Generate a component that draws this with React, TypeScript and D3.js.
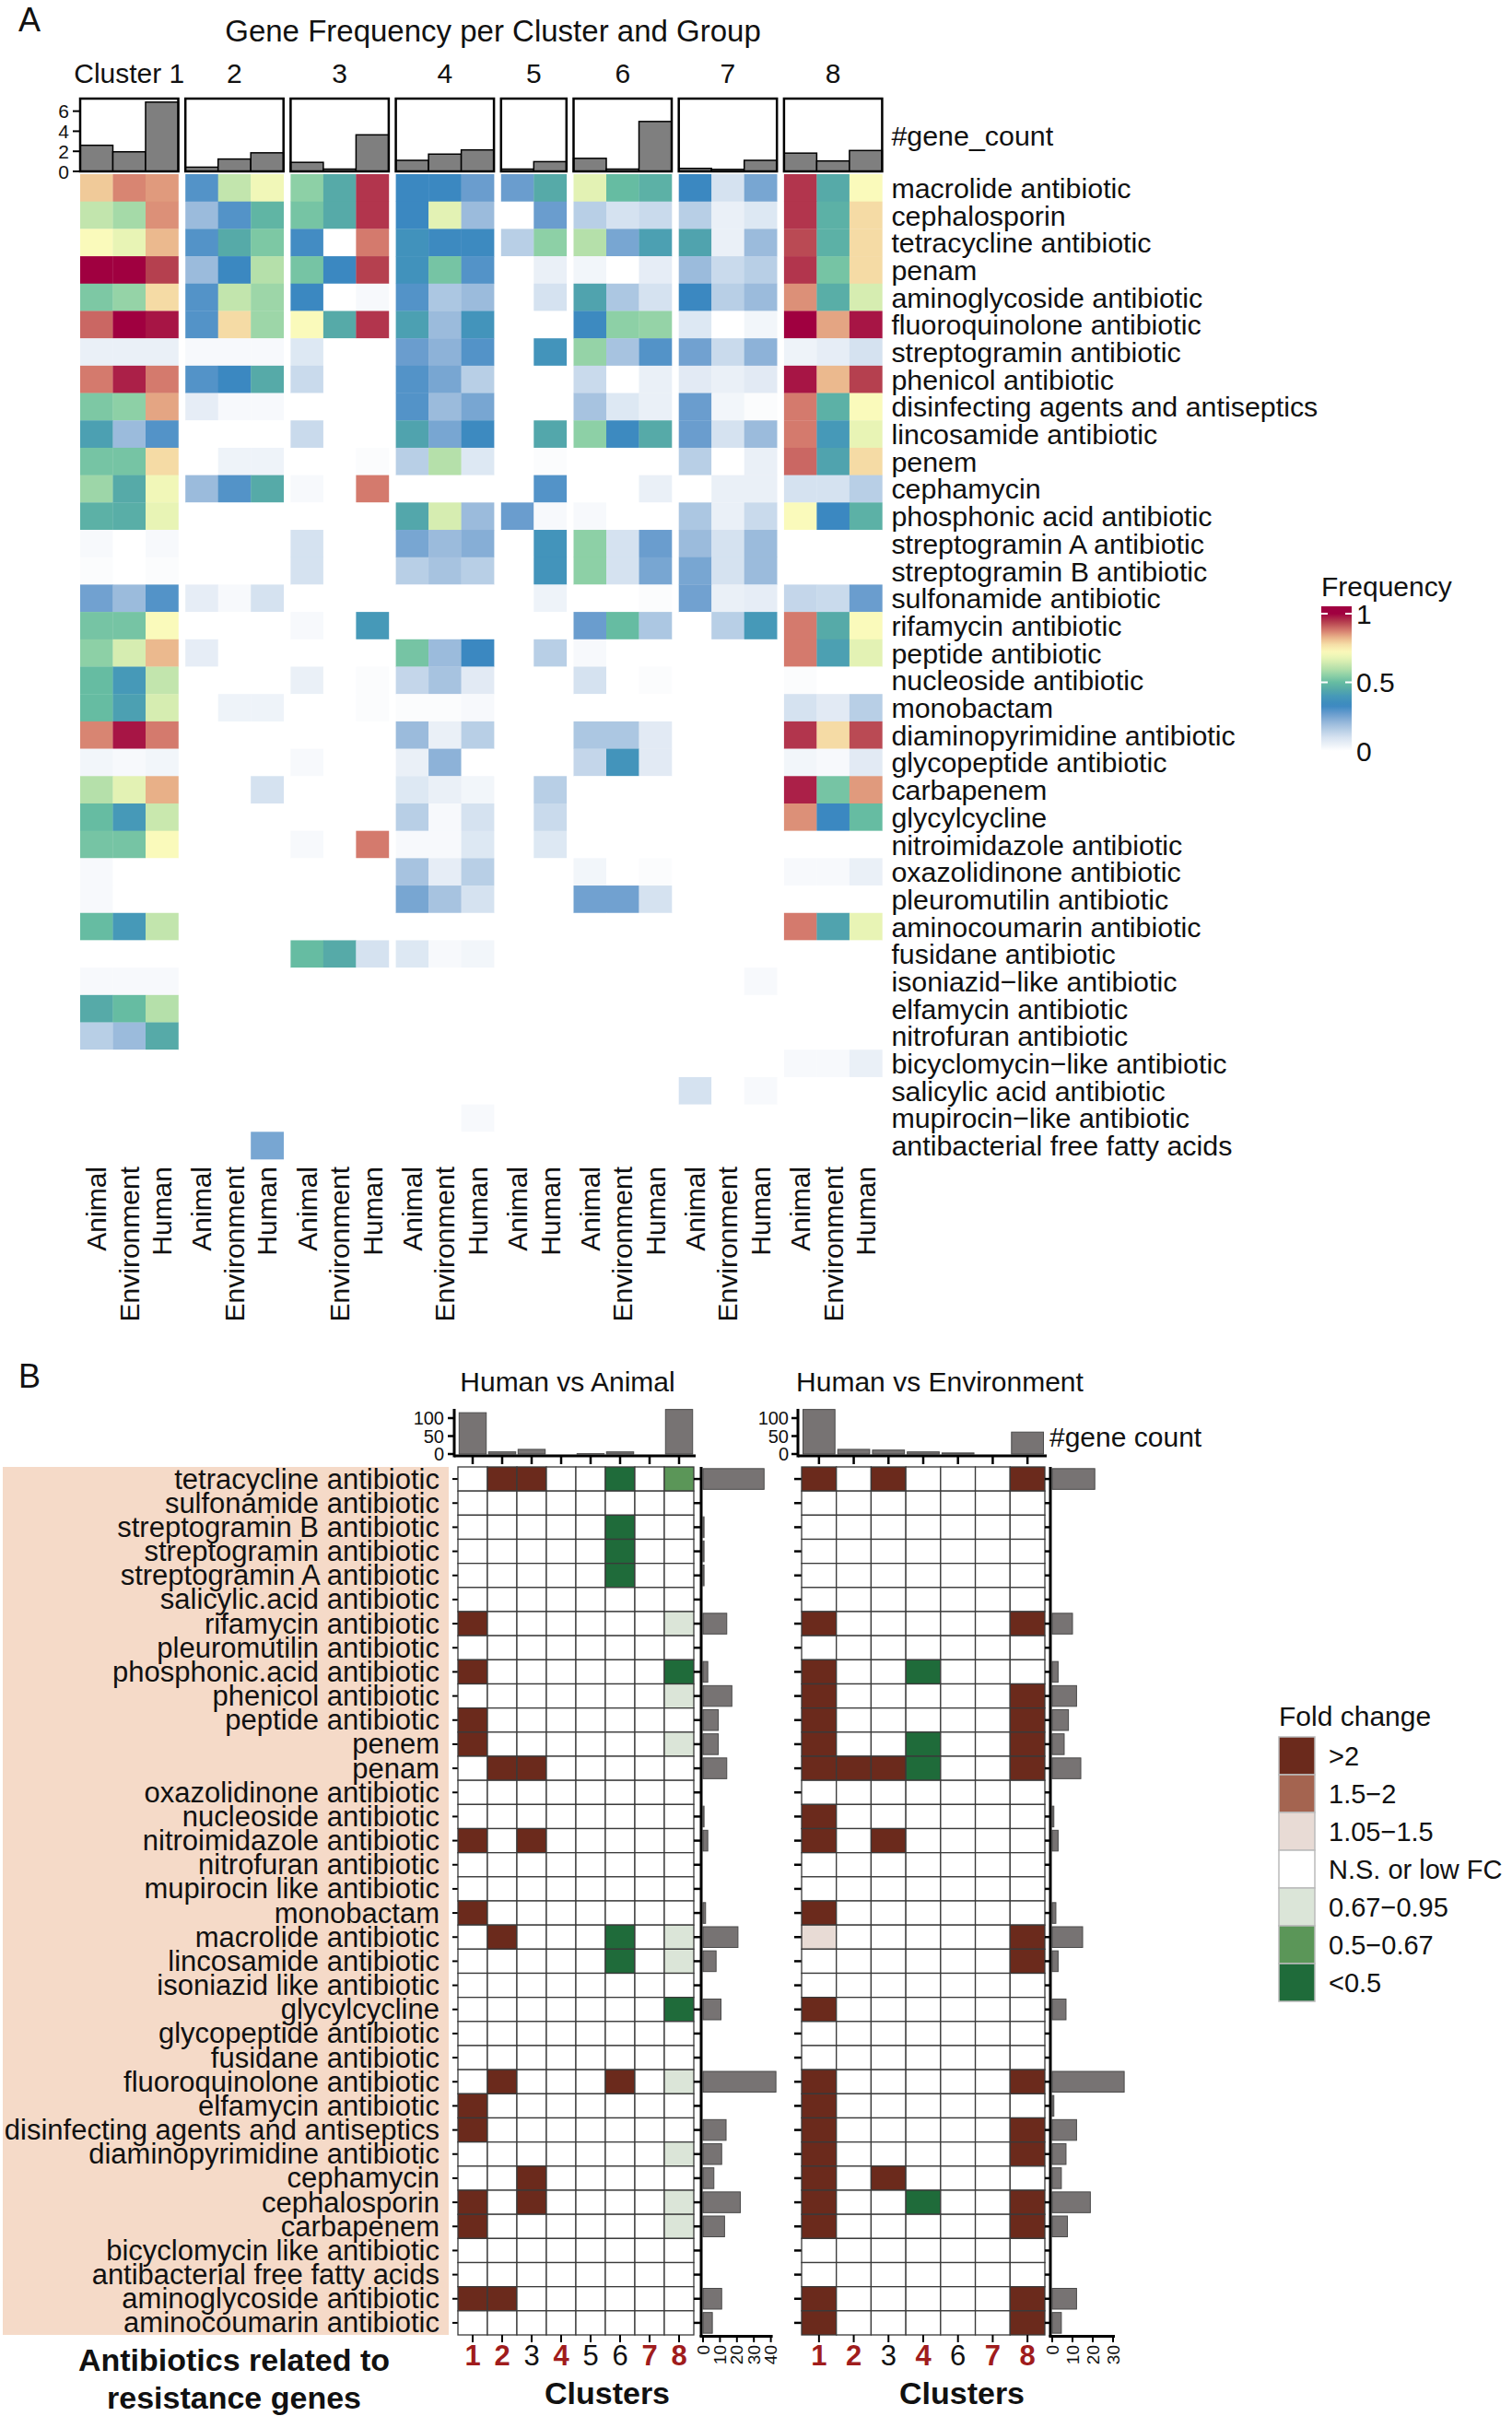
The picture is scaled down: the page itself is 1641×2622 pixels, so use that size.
import React from "react";
import * as d3 from "d3";

const FONT = "'Liberation Sans', Arial, Helvetica, sans-serif";

// ---------------- Panel A data ----------------
const antibioticsA = [
  "macrolide antibiotic", "cephalosporin", "tetracycline antibiotic", "penam",
  "aminoglycoside antibiotic", "fluoroquinolone antibiotic", "streptogramin antibiotic",
  "phenicol antibiotic", "disinfecting agents and antiseptics", "lincosamide antibiotic",
  "penem", "cephamycin", "phosphonic acid antibiotic", "streptogramin A antibiotic",
  "streptogramin B antibiotic", "sulfonamide antibiotic", "rifamycin antibiotic",
  "peptide antibiotic", "nucleoside antibiotic", "monobactam", "diaminopyrimidine antibiotic",
  "glycopeptide antibiotic", "carbapenem", "glycylcycline", "nitroimidazole antibiotic",
  "oxazolidinone antibiotic", "pleuromutilin antibiotic", "aminocoumarin antibiotic",
  "fusidane antibiotic", "isoniazid\u2212like antibiotic", "elfamycin antibiotic",
  "nitrofuran antibiotic", "bicyclomycin\u2212like antibiotic", "salicylic acid antibiotic",
  "mupirocin\u2212like antibiotic", "antibacterial free fatty acids",
];
const clusterNamesA = ["Cluster 1", "2", "3", "4", "5", "6", "7", "8"];
const groups3 = ["Animal", "Environment", "Human"];
const groups2 = ["Animal", "Human"];

// #gene_count per group (Animal, Environment, Human)
const geneCount1 = [2.6, 1.95, 6.9];
const geneCount2 = [0.42, 1.23, 1.85];
const geneCount3 = [0.9, 0.23, 3.64];
const geneCount4 = [1.1, 1.72, 2.14];
const geneCount5 = [0.23, 0.97];
const geneCount6 = [1.3, 0.23, 4.97];
const geneCount7 = [0.3, 0.2, 1.1];
const geneCount8 = [1.82, 1.04, 2.08];

// Frequency per antibiotic class (rows follow antibioticsA)
const freq1 = [
  [0.8, 0.87, 0.85], [0.62, 0.58, 0.86], [0.72, 0.68, 0.82], [1.0, 1.0, 0.94],
  [0.53, 0.56, 0.78], [0.9, 1.0, 0.98], [0.05, 0.05, 0.05], [0.88, 0.97, 0.88],
  [0.53, 0.55, 0.84], [0.42, 0.2, 0.3], [0.52, 0.52, 0.78], [0.57, 0.45, 0.7],
  [0.47, 0.46, 0.68], [0.02, 0, 0.02], [0.01, 0, 0.01], [0.26, 0.2, 0.3],
  [0.52, 0.52, 0.72], [0.55, 0.65, 0.82], [0.5, 0.4, 0.62], [0.5, 0.42, 0.65],
  [0.87, 0.98, 0.88], [0.03, 0.02, 0.03], [0.6, 0.67, 0.83], [0.5, 0.4, 0.63],
  [0.52, 0.52, 0.72], [0.02, 0, 0], [0.02, 0, 0], [0.5, 0.4, 0.62],
  [0, 0, 0], [0.02, 0.02, 0.02], [0.45, 0.5, 0.6], [0.15, 0.2, 0.45],
  [0, 0, 0], [0, 0, 0], [0, 0, 0], [0, 0, 0],
];
const freq2 = [
  [0.3, 0.62, 0.7], [0.2, 0.3, 0.48], [0.3, 0.45, 0.53], [0.2, 0.33, 0.6],
  [0.3, 0.62, 0.57], [0.3, 0.78, 0.57], [0.02, 0.02, 0.02], [0.3, 0.33, 0.45],
  [0.06, 0.02, 0.02], [0, 0, 0], [0, 0.04, 0.04], [0.2, 0.3, 0.45],
  [0, 0, 0], [0, 0, 0], [0, 0, 0], [0.06, 0.02, 0.1],
  [0, 0, 0], [0.06, 0, 0], [0, 0, 0], [0, 0.04, 0.04],
  [0, 0, 0], [0, 0, 0], [0, 0, 0.1], [0, 0, 0],
  [0, 0, 0], [0, 0, 0], [0, 0, 0], [0, 0, 0],
  [0, 0, 0], [0, 0, 0], [0, 0, 0], [0, 0, 0],
  [0, 0, 0], [0, 0, 0], [0, 0, 0], [0, 0, 0.25],
];
const freq3 = [
  [0.55, 0.45, 0.95], [0.52, 0.45, 0.95], [0.32, 0, 0.88], [0.52, 0.33, 0.94],
  [0.33, 0, 0.02], [0.72, 0.45, 0.95], [0.08, 0, 0], [0.12, 0, 0],
  [0, 0, 0], [0.12, 0, 0], [0, 0, 0.01], [0.02, 0, 0.88],
  [0, 0, 0], [0.1, 0, 0], [0.1, 0, 0], [0, 0, 0],
  [0.02, 0, 0.4], [0, 0, 0], [0.05, 0, 0.01], [0, 0, 0.01],
  [0, 0, 0], [0.02, 0, 0], [0, 0, 0], [0, 0, 0],
  [0.02, 0, 0.88], [0, 0, 0], [0, 0, 0], [0, 0, 0],
  [0.5, 0.45, 0.1], [0, 0, 0], [0, 0, 0], [0, 0, 0],
  [0, 0, 0], [0, 0, 0], [0, 0, 0], [0, 0, 0],
];
const freq4 = [
  [0.33, 0.33, 0.27], [0.33, 0.67, 0.2], [0.37, 0.34, 0.34], [0.37, 0.52, 0.3],
  [0.3, 0.17, 0.2], [0.42, 0.2, 0.38], [0.27, 0.22, 0.3], [0.3, 0.25, 0.15],
  [0.3, 0.2, 0.25], [0.43, 0.25, 0.34], [0.15, 0.6, 0.08], [0, 0, 0],
  [0.44, 0.65, 0.2], [0.25, 0.2, 0.23], [0.15, 0.18, 0.15], [0, 0, 0],
  [0, 0, 0], [0.52, 0.2, 0.33], [0.13, 0.18, 0.07], [0.01, 0.01, 0.02],
  [0.2, 0.05, 0.15], [0.05, 0.22, 0], [0.08, 0.05, 0.03], [0.15, 0.02, 0.1],
  [0.02, 0.02, 0.08], [0.18, 0.06, 0.15], [0.25, 0.18, 0.1], [0, 0, 0],
  [0.08, 0.02, 0.03], [0, 0, 0], [0, 0, 0], [0, 0, 0],
  [0, 0, 0], [0, 0, 0], [0, 0, 0.02], [0, 0, 0],
];
const freq5 = [
  [0.27, 0.45], [0, 0.27], [0.15, 0.55], [0, 0.05],
  [0, 0.1], [0, 0], [0, 0.38], [0, 0],
  [0, 0], [0, 0.44], [0, 0.01], [0, 0.3],
  [0.27, 0.02], [0, 0.38], [0, 0.38], [0, 0.04],
  [0, 0], [0, 0.15], [0, 0], [0, 0],
  [0, 0], [0, 0], [0, 0.15], [0, 0.12],
  [0, 0.08], [0, 0], [0, 0], [0, 0],
  [0, 0], [0, 0], [0, 0], [0, 0],
  [0, 0], [0, 0], [0, 0], [0, 0],
];
const freq6 = [
  [0.67, 0.5, 0.47], [0.15, 0.1, 0.12], [0.6, 0.25, 0.42], [0.03, 0, 0.06],
  [0.43, 0.17, 0.1], [0.34, 0.55, 0.56], [0.56, 0.18, 0.3], [0.12, 0, 0.05],
  [0.18, 0.08, 0.05], [0.55, 0.34, 0.45], [0, 0, 0], [0, 0, 0.05],
  [0.02, 0, 0], [0.55, 0.1, 0.27], [0.55, 0.1, 0.25], [0, 0, 0.01],
  [0.27, 0.5, 0.17], [0.02, 0, 0], [0.1, 0, 0.01], [0, 0, 0],
  [0.17, 0.17, 0.07], [0.13, 0.38, 0.07], [0, 0, 0], [0, 0, 0],
  [0, 0, 0], [0.03, 0, 0.01], [0.26, 0.26, 0.1], [0, 0, 0],
  [0, 0, 0], [0, 0, 0], [0, 0, 0], [0, 0, 0],
  [0, 0, 0], [0, 0, 0], [0, 0, 0], [0, 0, 0],
];
const freq7 = [
  [0.33, 0.1, 0.25], [0.15, 0.05, 0.08], [0.43, 0.05, 0.2], [0.2, 0.12, 0.15],
  [0.33, 0.15, 0.2], [0.08, 0, 0.03], [0.26, 0.12, 0.22], [0.07, 0.05, 0.07],
  [0.27, 0.03, 0.01], [0.27, 0.1, 0.2], [0.15, 0, 0.05], [0, 0.05, 0.05],
  [0.17, 0.05, 0.12], [0.2, 0.1, 0.2], [0.25, 0.1, 0.2], [0.26, 0.05, 0.06],
  [0, 0.15, 0.4], [0, 0, 0], [0, 0, 0], [0, 0, 0],
  [0, 0, 0], [0, 0, 0], [0, 0, 0], [0, 0, 0],
  [0, 0, 0], [0, 0, 0], [0, 0, 0], [0, 0, 0],
  [0, 0, 0], [0, 0, 0.02], [0, 0, 0], [0, 0, 0],
  [0, 0, 0], [0.1, 0, 0.02], [0, 0, 0], [0, 0, 0],
];
const freq8 = [
  [0.95, 0.45, 0.72], [0.95, 0.47, 0.78], [0.93, 0.47, 0.78], [0.95, 0.52, 0.78],
  [0.86, 0.46, 0.65], [1.0, 0.84, 0.98], [0.04, 0.06, 0.1], [0.98, 0.82, 0.94],
  [0.88, 0.47, 0.72], [0.88, 0.4, 0.68], [0.9, 0.43, 0.78], [0.1, 0.1, 0.15],
  [0.72, 0.33, 0.47], [0, 0, 0], [0, 0, 0], [0.13, 0.12, 0.27],
  [0.88, 0.45, 0.72], [0.88, 0.42, 0.67], [0.01, 0, 0], [0.1, 0.07, 0.15],
  [0.95, 0.78, 0.93], [0.03, 0.02, 0.07], [0.97, 0.52, 0.85], [0.86, 0.33, 0.5],
  [0, 0, 0], [0.02, 0.02, 0.05], [0, 0, 0], [0.88, 0.43, 0.68],
  [0, 0, 0], [0, 0, 0], [0, 0, 0], [0, 0, 0],
  [0.02, 0.02, 0.05], [0, 0, 0], [0, 0, 0], [0, 0, 0],
];
const freqTicks = [0, 0.5, 1];

// ---------------- Panel B data ----------------
const antibioticsB = [
  "tetracycline antibiotic", "sulfonamide antibiotic", "streptogramin B antibiotic",
  "streptogramin antibiotic", "streptogramin A antibiotic", "salicylic.acid antibiotic",
  "rifamycin antibiotic", "pleuromutilin antibiotic", "phosphonic.acid antibiotic",
  "phenicol antibiotic", "peptide antibiotic", "penem", "penam", "oxazolidinone antibiotic",
  "nucleoside antibiotic", "nitroimidazole antibiotic", "nitrofuran antibiotic",
  "mupirocin like antibiotic", "monobactam", "macrolide antibiotic", "lincosamide antibiotic",
  "isoniazid like antibiotic", "glycylcycline", "glycopeptide antibiotic", "fusidane antibiotic",
  "fluoroquinolone antibiotic", "elfamycin antibiotic", "disinfecting agents and antiseptics",
  "diaminopyrimidine antibiotic", "cephamycin", "cephalosporin", "carbapenem",
  "bicyclomycin like antibiotic", "antibacterial free fatty acids", "aminoglycoside antibiotic",
  "aminocoumarin antibiotic",
];
const clustersAnimal = ["1", "2", "3", "4", "5", "6", "7", "8"];
const clustersEnv = ["1", "2", "3", "4", "6", "7", "8"];
const highlightedClusters = ["1", "2", "4", "7", "8"];
const fcLevels = [">2", "1.5\u22122", "1.05\u22121.5", "N.S. or low FC", "0.67\u22120.95", "0.5\u22120.67", "<0.5"];
// codes: H >2, M 1.5-2, L 1.05-1.5, . N.S., l 0.67-0.95, m 0.5-0.67, h <0.5
const fcCodes = ["H", "M", "L", ".", "l", "m", "h"];
const fcHumanVsAnimal = [
  ".HH..h.m", "........", ".....h..", ".....h..", ".....h..", "........",
  "H......l", "........", "H......h", ".......l", "H.......", "H......l",
  ".HH.....", "........", "........", "H.H.....", "........", "........",
  "H.......", ".H...h.l", ".....h.l", "........", ".......h", "........",
  "........", ".H...H.l", "H.......", "H.......", ".......l", "..H.....",
  "H.H....l", "H......l", "........", "........", "HH......", "........",
];
const fcHumanVsEnv = [
  "H.H...H", ".......", ".......", ".......", ".......", ".......",
  "H.....H", ".......", "H..h...", "H.....H", "H.....H", "H..h..H",
  "HHHh..H", ".......", "H......", "H.H....", ".......", ".......",
  "H......", "L.....H", "......H", ".......", "H......", ".......",
  ".......", "H.....H", "H......", "H.....H", "H.....H", "H.H....",
  "H..h..H", "H.....H", ".......", ".......", "H.....H", "H.....H",
];
// #gene count per cluster (top bars)
const clusterCountAnimal = [115, 6, 13, 0, 1, 6, 0, 124];
const clusterCountEnv = [124, 13, 11, 6, 3, 0, 61];
// gene count per antibiotic class (side bars)
const classCountAnimal = [
  36, 0, 0.6, 0.6, 0.6, 0, 14, 0, 2.8, 17, 9, 9, 14, 0, 0.6, 2.8, 0, 0,
  1.5, 20.6, 7.7, 0, 10.6, 0, 0, 43, 0, 13.6, 11, 6.4, 22, 12.7, 0, 0, 11, 5.5,
];
const classCountEnv = [
  21, 0, 0, 0, 0, 0, 10, 0, 2.9, 12, 8, 5.9, 14.1, 0, 0.8, 2.9, 0, 0,
  1.8, 15, 2.9, 0, 6.8, 0, 0, 35.5, 0.8, 12, 6.8, 4.5, 18.8, 7.5, 0, 0, 12, 4.5,
];
const topTicks = [0, 50, 100];
const sideTicksAnimal = [0, 10, 20, 30, 40];
const sideTicksEnv = [0, 10, 20, 30];

// ---------------- styles ----------------
const freqStops = [0, 0.05, 0.1, 0.2, 0.27, 0.33, 0.4, 0.45, 0.5, 0.55, 0.6, 0.67, 0.72, 0.78, 0.83, 0.88, 0.94, 1];
const freqColors = [
  "#ffffff", "#eaf0f7", "#d5e2f0", "#9bbbdc", "#6a9dce", "#3b88c1", "#4699b8", "#56aaa8",
  "#66bca2", "#8dd0a6", "#b5e0aa", "#e3f2b4", "#fafabb", "#f5dba5", "#e8b088", "#d47a6d",
  "#b5404f", "#a00040",
];
const fcColors = ["#6b2a1c", "#a46450", "#e8dbd5", "#ffffff", "#dbe5d8", "#5b9658", "#1f6b3a"];
const RED = "#a01c1c";

export default function App() {
  const color = d3.scaleLinear<string>().domain(freqStops).range(freqColors).interpolate(d3.interpolateRgb).clamp(true);

  // ---------- Panel A layout ----------
  const colW = 35.5, gap = 7.7, left = 87;
  const yA = d3.scaleBand<string>().domain(antibioticsA).range([189, 1258]);
  const barY = d3.scaleLinear().domain([0, 7.25]).range([186, 107]);
  const clustersA = [
    { label: clusterNamesA[0], groups: groups3, counts: geneCount1, freq: freq1 },
    { label: clusterNamesA[1], groups: groups3, counts: geneCount2, freq: freq2 },
    { label: clusterNamesA[2], groups: groups3, counts: geneCount3, freq: freq3 },
    { label: clusterNamesA[3], groups: groups3, counts: geneCount4, freq: freq4 },
    { label: clusterNamesA[4], groups: groups2, counts: geneCount5, freq: freq5 },
    { label: clusterNamesA[5], groups: groups3, counts: geneCount6, freq: freq6 },
    { label: clusterNamesA[6], groups: groups3, counts: geneCount7, freq: freq7 },
    { label: clusterNamesA[7], groups: groups3, counts: geneCount8, freq: freq8 },
  ];
  let cursor = left;
  const blocks = clustersA.map((c) => {
    const w = c.groups.length * colW;
    const xs = d3.scaleBand<string>().domain(c.groups).range([cursor, cursor + w]);
    const b = { ...c, x0: cursor, x1: cursor + w, xs };
    cursor += w + gap;
    return b;
  });
  const heatRight = blocks[blocks.length - 1].x1;

  const legY = d3.scaleLinear().domain([0, 1]).range([815, 666]);
  const legTop = 658, legBot = 822;
  const gradStops = d3.range(0, 1.0001, 0.025);

  // ---------- Panel B layout ----------
  const yB = d3.scaleBand<string>().domain(antibioticsB).range([1592, 2534]);
  const xL = d3.scaleBand<string>().domain(clustersAnimal).range([497, 753]);
  const xR = d3.scaleBand<string>().domain(clustersEnv).range([870, 1134]);
  const topY = d3.scaleLinear().domain([0, 100]).range([1578, 1539]);
  const sideL = d3.scaleLinear().domain([0, 40]).range([763, 836.6]);
  const sideR = d3.scaleLinear().domain([0, 30]).range([1142, 1208]);

  const fcColor = (code: string) => fcColors[fcCodes.indexOf(code)];

  const heatB = (rows: string[], xs: d3.ScaleBand<string>, clusters: string[]) => (
    <g>
      {rows.map((row, i) =>
        clusters.map((c, j) => (
          <rect key={`${i}-${j}`} x={xs(c)} y={yB(antibioticsB[i])} width={xs.bandwidth()} height={yB.bandwidth()}
            fill={fcColor(row[j])} stroke="#3a3a3a" strokeWidth={1.3} />
        ))
      )}
    </g>
  );

  const topBars = (counts: number[], xs: d3.ScaleBand<string>, clusters: string[], axisX: number, labelX: number) => {
    const [, x1] = xs.range();
    const pad = xs.bandwidth() * 0.04;
    return (
      <g>
        {clusters.map((c, i) => (
          <rect key={c} x={(xs(c) as number) + pad} y={topY(counts[i])} width={xs.bandwidth() - 2 * pad}
            height={topY(0) - topY(counts[i])} fill="#777373" stroke="#4a4a4a" strokeWidth={1} />
        ))}
        <line x1={axisX} x2={axisX} y1={1529} y2={1581.5} stroke="#000" strokeWidth={3} />
        {topTicks.map((t) => (
          <g key={t}>
            <line x1={axisX - 7} x2={axisX} y1={topY(t)} y2={topY(t)} stroke="#000" strokeWidth={2.5} />
            <text x={labelX} y={topY(t)} fontSize={20} textAnchor="end" dominantBaseline="central">{t}</text>
          </g>
        ))}
        <line x1={axisX} x2={x1 + 2} y1={1580} y2={1580} stroke="#000" strokeWidth={3} />
        {clusters.map((c) => {
          const cx = (xs(c) as number) + xs.bandwidth() / 2;
          return <line key={c} x1={cx} x2={cx} y1={1580} y2={1589} stroke="#000" strokeWidth={2.5} />;
        })}
      </g>
    );
  };

  const sideBars = (counts: number[], xs: d3.ScaleLinear<number, number>, ticks: number[], axisX: number, heatX1: number) => (
    <g>
      {counts.map((v, i) =>
        v > 0 ? (
          <rect key={i} x={xs(0)} y={(yB(antibioticsB[i]) as number) + yB.bandwidth() * 0.07}
            width={xs(v) - xs(0)} height={yB.bandwidth() * 0.86} fill="#777373" stroke="#4a4a4a" strokeWidth={1} />
        ) : null
      )}
      <line x1={axisX} x2={axisX} y1={1592} y2={2536} stroke="#000" strokeWidth={3} />
      {antibioticsB.map((a) => {
        const cy = (yB(a) as number) + yB.bandwidth() / 2;
        return <line key={a} x1={heatX1} x2={axisX} y1={cy} y2={cy} stroke="#000" strokeWidth={2.5} />;
      })}
      <line x1={axisX - 1.5} x2={xs(ticks[ticks.length - 1]) + 2} y1={2535.5} y2={2535.5} stroke="#000" strokeWidth={3} />
      {ticks.map((t) => (
        <g key={t}>
          <line x1={xs(t)} x2={xs(t)} y1={2535} y2={2542} stroke="#000" strokeWidth={2} />
          <text transform={`translate(${xs(t)},${2545}) rotate(-90)`} fontSize={19} textAnchor="end" dominantBaseline="central">{t}</text>
        </g>
      ))}
    </g>
  );

  const bottomAxis = (xs: d3.ScaleBand<string>, clusters: string[]) => (
    <g>
      {clusters.map((c) => {
        const cx = (xs(c) as number) + xs.bandwidth() / 2;
        const hi = highlightedClusters.includes(c);
        return (
          <g key={c}>
            <line x1={cx} x2={cx} y1={2534} y2={2542} stroke="#000" strokeWidth={2} />
            <text x={cx} y={2556} fontSize={31} textAnchor="middle" dominantBaseline="central"
              fill={hi ? RED : "#111"} fontWeight={hi ? "bold" : "normal"}>{c}</text>
          </g>
        );
      })}
    </g>
  );

  return (
    <svg width={1641} height={2622} style={{ position: "absolute", left: 0, top: 0, background: "#fff" }}
      fontFamily={FONT} fill="#111">
      <defs>
        <linearGradient id="freqGrad" gradientUnits="userSpaceOnUse" x1={0} y1={legBot} x2={0} y2={legTop}>
          {gradStops.map((v) => (
            <stop key={v} offset={Math.min(1, Math.max(0, (legBot - legY(v)) / (legBot - legTop)))} stopColor={color(v)} />
          ))}
        </linearGradient>
      </defs>
      <rect x={0} y={0} width={1641} height={2622} fill="#fff" />

      {/* ================= Panel A ================= */}
      <text x={20} y={34} fontSize={36}>A</text>
      <text x={535} y={45} fontSize={33} textAnchor="middle">Gene Frequency per Cluster and Group</text>

      {blocks.map((b) => (
        <g key={b.label}>
          <text x={(b.x0 + b.x1) / 2} y={90} fontSize={30} textAnchor="middle">{b.label}</text>
          {b.groups.map((g, gi) => (
            <rect key={g} x={b.xs(g)} y={barY(b.counts[gi])} width={b.xs.bandwidth()} height={barY(0) - barY(b.counts[gi])}
              fill="#7f7f7f" stroke="#000" strokeWidth={1.5} />
          ))}
          <rect x={b.x0} y={107} width={b.x1 - b.x0} height={79} fill="none" stroke="#000" strokeWidth={2.5} />
          {antibioticsA.map((a, ri) =>
            b.groups.map((g, gi) => (
              <rect key={`${ri}-${g}`} x={b.xs(g)} y={yA(a)} width={b.xs.bandwidth() + 0.3} height={yA.bandwidth() + 0.3}
                fill={color(b.freq[ri][gi])} />
            ))
          )}
          {b.groups.map((g) => (
            <text key={g} transform={`translate(${(b.xs(g) as number) + b.xs.bandwidth() / 2},1266) rotate(-90)`}
              fontSize={30} textAnchor="end" dominantBaseline="central">{g}</text>
          ))}
        </g>
      ))}
      {[0, 2, 4, 6].map((t) => (
        <g key={t}>
          <line x1={79} x2={86} y1={barY(t)} y2={barY(t)} stroke="#000" strokeWidth={2} />
          <text x={75} y={barY(t)} fontSize={21} textAnchor="end" dominantBaseline="central">{t}</text>
        </g>
      ))}
      <text x={heatRight + 10} y={147} fontSize={30.4} dominantBaseline="central">#gene_count</text>
      {antibioticsA.map((a) => (
        <text key={a} x={heatRight + 10} y={(yA(a) as number) + yA.bandwidth() / 2} fontSize={30.4} dominantBaseline="central">{a}</text>
      ))}

      {/* legend A */}
      <text x={1434} y={647} fontSize={30}>Frequency</text>
      <rect x={1434} y={legTop} width={33} height={legBot - legTop} fill="url(#freqGrad)" />
      {freqTicks.map((t) => (
        <g key={t}>
          <line x1={1434} x2={1441} y1={legY(t)} y2={legY(t)} stroke="#fff" strokeWidth={2} />
          <line x1={1460} x2={1467} y1={legY(t)} y2={legY(t)} stroke="#fff" strokeWidth={2} />
          <text x={1472} y={legY(t)} fontSize={30} dominantBaseline="central">{t}</text>
        </g>
      ))}

      {/* ================= Panel B ================= */}
      <text x={20} y={1506} fontSize={36}>B</text>
      <text x={616} y={1499} fontSize={30} textAnchor="middle" dominantBaseline="central">Human vs Animal</text>
      <text x={1020} y={1499} fontSize={30} textAnchor="middle" dominantBaseline="central">Human vs Environment</text>
      <text x={1139} y={1559} fontSize={30} dominantBaseline="central">#gene count</text>

      <rect x={3} y={1592} width={484} height={942} fill="#f5dac8" />
      {antibioticsB.map((a) => {
        const cy = (yB(a) as number) + yB.bandwidth() / 2;
        return (
          <g key={a}>
            <text x={477} y={cy} fontSize={31} textAnchor="end" dominantBaseline="central">{a}</text>
            <line x1={491} x2={497} y1={cy} y2={cy} stroke="#000" strokeWidth={2} />
            <line x1={862} x2={870} y1={cy} y2={cy} stroke="#000" strokeWidth={2.5} />
          </g>
        );
      })}

      {topBars(clusterCountAnimal, xL, clustersAnimal, 493, 482)}
      {topBars(clusterCountEnv, xR, clustersEnv, 866, 856)}
      {heatB(fcHumanVsAnimal, xL, clustersAnimal)}
      {heatB(fcHumanVsEnv, xR, clustersEnv)}
      {sideBars(classCountAnimal, sideL, sideTicksAnimal, 761, 753)}
      {sideBars(classCountEnv, sideR, sideTicksEnv, 1140, 1134)}
      {bottomAxis(xL, clustersAnimal)}
      {bottomAxis(xR, clustersEnv)}

      <text x={659} y={2597} fontSize={34} fontWeight="bold" textAnchor="middle" dominantBaseline="central">Clusters</text>
      <text x={1044} y={2597} fontSize={34} fontWeight="bold" textAnchor="middle" dominantBaseline="central">Clusters</text>
      <text x={254} y={2561} fontSize={34} fontWeight="bold" textAnchor="middle" dominantBaseline="central">Antibiotics related to</text>
      <text x={254} y={2602} fontSize={34} fontWeight="bold" textAnchor="middle" dominantBaseline="central">resistance genes</text>

      {/* legend B */}
      <text x={1388} y={1862} fontSize={30} dominantBaseline="central">Fold change</text>
      {fcLevels.map((lv, i) => (
        <g key={lv}>
          <rect x={1388} y={1885 + i * 41} width={39} height={41} fill={fcColors[i]} stroke="#bbb" strokeWidth={1.5} />
          <text x={1442} y={1885 + i * 41 + 20.5} fontSize={29} dominantBaseline="central">{lv}</text>
        </g>
      ))}
    </svg>
  );
}
